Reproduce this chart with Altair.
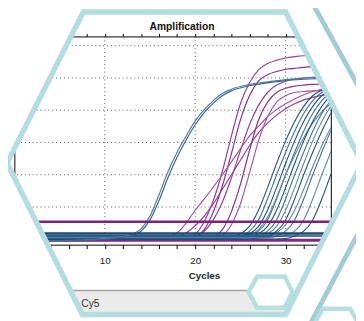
import altair as alt
import pandas as pd

# ---------------- data ----------------
GRID = [0, 8, 12, 14, 16, 18, 19, 20, 21, 22, 23, 24, 25, 26, 27, 28, 29, 30, 31, 32, 33, 34, 35, 36]

P1 = [-0.03, -0.03, -0.02, -0.02, -0.01, 0.0, 0.03, 0.15, 0.55, 1.2, 2.1, 3.2, 4.2, 4.85, 5.25, 5.45, 5.55, 5.62, 5.66, 5.69, 5.7, 5.71, 5.72, 5.72]
P2 = [-0.04, -0.04, -0.03, -0.03, -0.02, -0.01, 0.0, 0.07, 0.3, 0.85, 1.65, 2.65, 3.7, 4.45, 4.9, 5.1, 5.2, 5.27, 5.3, 5.33, 5.35, 5.36, 5.37, 5.37]
P3 = [-0.02, -0.02, -0.01, 0.0, 0.02, 0.2, 0.5, 0.9, 1.25, 1.62, 2.0, 2.4, 2.8, 3.2, 3.5, 3.8, 4.02, 4.2, 4.35, 4.48, 4.58, 4.65, 4.7, 4.73]
P4 = [-0.03, -0.03, -0.02, -0.01, 0.0, 0.08, 0.2, 0.42, 0.72, 1.1, 1.55, 2.0, 2.45, 2.9, 3.3, 3.6, 3.85, 4.05, 4.2, 4.32, 4.4, 4.46, 4.5, 4.52]
P5 = [-0.03, -0.03, -0.03, -0.03, -0.02, -0.02, -0.01, 0.0, 0.02, 0.08, 0.3, 0.85, 1.7, 2.75, 3.7, 4.25, 4.55, 4.68, 4.75, 4.78, 4.8, 4.81, 4.82, 4.82]
P6 = [-0.04, -0.04, -0.04, -0.03, -0.03, -0.02, -0.02, -0.01, 0.0, 0.03, 0.12, 0.45, 1.1, 2.05, 3.05, 3.8, 4.25, 4.45, 4.55, 4.58, 4.6, 4.61, 4.62, 4.62]
P7 = [-0.02, -0.02, -0.02, -0.01, 0.0, 0.01, 0.02, 0.08, 0.25, 0.6, 1.15, 1.9, 2.75, 3.55, 4.15, 4.55, 4.78, 4.9, 4.96, 5.0, 5.02, 5.03, 5.04, 5.04]
P_NEG = [-0.03, -0.03, -0.03, -0.03, -0.03, -0.03, -0.03, -0.03, -0.03, -0.03, -0.03, -0.03, -0.03, -0.03, -0.03, -0.03, -0.03, -0.03, -0.03, -0.03, -0.03, -0.03, -0.03, -0.03]

B1 = [0.02, 0.02, 0.02, 0.02, 0.02, 0.02, 0.02, 0.02, 0.02, 0.02, 0.03, 0.07, 0.17, 0.4, 0.9, 1.6, 2.35, 3.05, 3.65, 4.12, 4.45, 4.63, 4.75, 4.8]
B2 = [0.08, 0.08, 0.08, 0.08, 0.08, 0.08, 0.08, 0.08, 0.08, 0.08, 0.08, 0.08, 0.1, 0.25, 0.6, 1.25, 2.0, 2.7, 3.35, 3.9, 4.3, 4.55, 4.7, 4.78]
B3 = [0.0, 0.0, 0.0, 0.0, 0.0, 0.0, 0.0, 0.0, 0.0, 0.0, 0.01, 0.03, 0.07, 0.17, 0.4, 0.9, 1.6, 2.35, 3.05, 3.65, 4.12, 4.45, 4.63, 4.75]
B4 = [0.12, 0.12, 0.12, 0.12, 0.12, 0.12, 0.12, 0.12, 0.12, 0.12, 0.12, 0.12, 0.12, 0.13, 0.25, 0.6, 1.25, 2.0, 2.7, 3.35, 3.9, 4.3, 4.55, 4.7]
B5 = [0.05, 0.05, 0.05, 0.05, 0.05, 0.05, 0.05, 0.05, 0.05, 0.05, 0.05, 0.05, 0.06, 0.12, 0.3, 0.68, 1.3, 2.0, 2.6, 3.15, 3.6, 3.95, 4.2, 4.35]
B6 = [0.03, 0.03, 0.03, 0.03, 0.03, 0.03, 0.03, 0.03, 0.03, 0.03, 0.03, 0.03, 0.04, 0.07, 0.17, 0.4, 0.9, 1.6, 2.35, 3.05, 3.65, 4.12, 4.45, 4.63]
B7 = [0.1, 0.1, 0.1, 0.1, 0.1, 0.1, 0.1, 0.1, 0.1, 0.1, 0.1, 0.1, 0.1, 0.1, 0.11, 0.25, 0.6, 1.25, 2.0, 2.7, 3.35, 3.9, 4.3, 4.55]
B8 = [0.06, 0.06, 0.06, 0.06, 0.06, 0.06, 0.06, 0.06, 0.06, 0.06, 0.06, 0.06, 0.06, 0.06, 0.07, 0.17, 0.4, 0.9, 1.6, 2.35, 3.05, 3.65, 4.12, 4.45]
B9 = [0.0, 0.0, 0.0, 0.0, 0.0, 0.0, 0.0, 0.0, 0.0, 0.0, 0.0, 0.0, 0.0, 0.01, 0.05, 0.1, 0.25, 0.6, 1.25, 2.0, 2.7, 3.35, 3.9, 4.3]
B10 = [0.09, 0.09, 0.09, 0.09, 0.09, 0.09, 0.09, 0.09, 0.09, 0.09, 0.09, 0.09, 0.09, 0.09, 0.09, 0.1, 0.2, 0.45, 0.9, 1.55, 2.25, 2.9, 3.45, 3.9]
B11 = [0.04, 0.04, 0.04, 0.04, 0.04, 0.04, 0.04, 0.04, 0.04, 0.04, 0.04, 0.04, 0.04, 0.04, 0.04, 0.05, 0.1, 0.25, 0.6, 1.25, 2.0, 2.7, 3.35, 3.9]
B12 = [0.07, 0.07, 0.07, 0.07, 0.07, 0.07, 0.07, 0.07, 0.07, 0.07, 0.07, 0.07, 0.07, 0.07, 0.07, 0.07, 0.08, 0.12, 0.25, 0.6, 1.25, 2.0, 2.7, 3.35]
B13 = [0.01, 0.01, 0.01, 0.01, 0.01, 0.01, 0.01, 0.01, 0.01, 0.01, 0.01, 0.01, 0.01, 0.01, 0.01, 0.01, 0.01, 0.02, 0.1, 0.25, 0.6, 1.25, 2.0, 2.7]
B_NEG = [0.1, 0.1, 0.1, 0.1, 0.1, 0.1, 0.1, 0.1, 0.1, 0.1, 0.1, 0.1, 0.1, 0.1, 0.1, 0.1, 0.1, 0.1, 0.1, 0.1, 0.1, 0.1, 0.1, 0.1]

EARLY_CYCLES = [0, 4, 8, 10, 11, 12, 13, 14, 15, 16, 17, 18, 19, 20, 21, 22, 23, 24, 26, 28, 30, 32, 34, 36]
EARLY_A = [-0.07, -0.05, -0.02, 0.02, 0.05, 0.09, 0.15, 0.32, 0.72, 1.38, 2.1, 2.7, 3.2, 3.67, 4.02, 4.3, 4.52, 4.65, 4.8, 4.88, 4.95, 5.0, 5.03, 5.05]
EARLY_B = [-0.06, -0.05, -0.03, 0.0, 0.03, 0.07, 0.12, 0.25, 0.6, 1.2, 1.92, 2.55, 3.08, 3.55, 3.93, 4.22, 4.45, 4.6, 4.76, 4.85, 4.92, 4.96, 4.99, 5.01]

XTICKS = [2, 4, 6, 8, 10, 12, 14, 16, 18, 20, 22, 24, 26, 28, 30, 32, 34]
YTICKS = [2.1, 2.35, 2.6]
GRID_X = [10, 20, 30]
GRID_Y = [1, 2, 3, 4, 5, 6]
THRESH = [0.545, 0.18]
THRESH_COLORS = ["#7d2080", "#1d4a74"]

PURPLE = "#9c3c99"
PURPLE2 = "#a950a6"
PURPLE3 = "#8a2e8c"
NAVY = "#1f4f7b"
STEEL = "#3c6f9a"
SLATE = "#5d86aa"

CURVES = [
    ("a1", GRID, P1, PURPLE, 1.2), ("a2", GRID, P2, PURPLE3, 1.2),
    ("a3", GRID, P3, PURPLE2, 1.2), ("a4", GRID, P4, PURPLE, 1.2),
    ("a5", GRID, P5, PURPLE3, 1.2), ("a6", GRID, P6, PURPLE2, 1.2),
    ("a7", GRID, P7, PURPLE, 1.2), ("a8", GRID, P_NEG, "#86268a", 3.0),
    ("b01", GRID, B1, NAVY, 1.1), ("b02", GRID, B2, STEEL, 1.1),
    ("b03", GRID, B3, NAVY, 1.1), ("b04", GRID, B4, STEEL, 1.1),
    ("b05", GRID, B5, SLATE, 1.1), ("b06", GRID, B6, NAVY, 1.1),
    ("b07", GRID, B7, STEEL, 1.1), ("b08", GRID, B8, SLATE, 1.1),
    ("b09", GRID, B9, NAVY, 1.1), ("b10", GRID, B10, SLATE, 1.1),
    ("b11", GRID, B11, STEEL, 1.1), ("b12", GRID, B12, SLATE, 1.1),
    ("b13", GRID, B13, NAVY, 1.1), ("b14", GRID, B_NEG, NAVY, 1.6),
    ("c1", EARLY_CYCLES, EARLY_A, "#4f7ea6", 1.2),
    ("c2", EARLY_CYCLES, EARLY_B, "#3a678e", 1.2),
]

# ---------------- decoration geometry (page pixels) ----------------
OX, OY = 14.5, 33.5          # page position of the plot origin
HEX_BIG = [(7, 163), (84, 318), (292, 318), (370, 163), (292, 8.5), (85, 8.5)]
MASK_OUT = [(-30, -30), (420, -30), (420, 350), (-30, 350)]
TEAL_LINE = [(317, -5), (407, 158), (316, 330)]
HEX_SMALL = [(254, 295), (263, 279), (291, 279), (299, 295), (291, 311), (263, 311)]
HEX_SMALL2 = [(320, 330), (330, 312), (358, 312), (368, 330), (358, 348), (330, 348)]
BAR = [(0, 293), (300, 293), (300, 325), (0, 325)]
BAR_TOP = [(0, 293.5), (300, 293.5)]


def g(pts):
    return [[px - OX, py - OY] for px, py in pts]


def ring(pts):
    r = g(pts)
    return r + [r[0]]


def geo(geometry, **mark):
    data = alt.Data(values=[{"type": "Feature", "properties": {}, "geometry": geometry}])
    return alt.Chart(data).mark_geoshape(clip=False, **mark).project(
        type="identity", scale=1, translate=[0, 0])


rows = []
for name, cyc, vals, col, w in CURVES:
    for c, v in zip(cyc, vals):
        rows.append({"name": name, "cycle": c, "value": v, "color": col, "width": w})
df = pd.DataFrame(rows)

X_SCALE = alt.Scale(domain=[0, 35], nice=False, zero=False)
Y_SCALE = alt.Scale(domain=[-0.167, 6.288], nice=False, zero=False)
FONT = "Liberation Sans"

vgrid = alt.Chart(pd.DataFrame({"cycle": GRID_X})).mark_rule(
    strokeDash=[1, 3], color="#555", strokeWidth=1
).encode(
    x=alt.X("cycle:Q", scale=X_SCALE,
            axis=alt.Axis(orient="top", values=XTICKS, labels=False, tickSize=3,
                          domain=False, grid=False, title=None, tickColor="#000"))
)

hgrid = alt.Chart(pd.DataFrame({"value": GRID_Y})).mark_rule(
    strokeDash=[1, 3], color="#555", strokeWidth=1
).encode(y=alt.Y("value:Q", scale=Y_SCALE, axis=None))

lines = alt.Chart(df).mark_line(clip=True, interpolate="monotone").encode(
    x=alt.X("cycle:Q", scale=X_SCALE,
            axis=alt.Axis(orient="bottom", values=XTICKS,
                          labelExpr="datum.value % 10 === 0 ? datum.label : ''",
                          tickSize=4, tickColor="#000", domain=False, grid=False,
                          title=None, labelFont=FONT, labelFontSize=10,
                          labelColor="#222", labelPadding=7)),
    y=alt.Y("value:Q", scale=Y_SCALE,
            axis=alt.Axis(values=YTICKS, labels=False, tickSize=3, tickColor="#000",
                          domain=False, grid=False, title=None)),
    detail="name:N",
    color=alt.Color("color:N", scale=None),
    strokeWidth=alt.StrokeWidth("width:Q", scale=None),
)

thresh = alt.Chart(pd.DataFrame({"value": THRESH, "color": THRESH_COLORS})).mark_rule(
    strokeWidth=2.5, clip=True
).encode(y=alt.Y("value:Q", scale=Y_SCALE, axis=None), color=alt.Color("color:N", scale=None))

bar = geo({"type": "Polygon", "coordinates": [ring(BAR)]}, fill="#ebebeb", strokeOpacity=0)
bar_top = geo({"type": "LineString", "coordinates": g(BAR_TOP)}, filled=False, stroke="#a3a3a3", strokeWidth=1.5)
mask = geo({"type": "Polygon", "coordinates": [ring(MASK_OUT), ring(HEX_BIG)]},
           fill="#ffffff", strokeOpacity=0)
hex_big = geo({"type": "Polygon", "coordinates": [ring(HEX_BIG)]}, filled=False,
              stroke="#b4dde1", strokeWidth=5.5, strokeJoin="miter")
teal = geo({"type": "LineString", "coordinates": g(TEAL_LINE)}, filled=False,
           stroke="#a3cdd2", strokeWidth=5, strokeJoin="miter")
hex_s = geo({"type": "Polygon", "coordinates": [ring(HEX_SMALL)]}, fill="#ffffff",
            stroke="#b7dfe2", strokeWidth=4.5, strokeJoin="miter")
hex_s2 = geo({"type": "Polygon", "coordinates": [ring(HEX_SMALL2)]}, fill="#ffffff",
             stroke="#b7dfe2", strokeWidth=4.5, strokeJoin="miter")

title = alt.Chart(pd.DataFrame({"t": ["Amplification"]})).mark_text(
    font=FONT, fontSize=10.5, fontWeight="bold", color="#111", align="center", baseline="alphabetic"
).encode(text="t:N", x=alt.value(186 - OX), y=alt.value(26.5 - OY))

xtitle = alt.Chart(pd.DataFrame({"t": ["Cycles"]})).mark_text(
    font=FONT, fontSize=10, fontWeight="bold", color="#222", align="center", baseline="alphabetic"
).encode(text="t:N", x=alt.value(209 - OX), y=alt.value(282 - OY))

cy5 = alt.Chart(pd.DataFrame({"t": ["Cy5"]})).mark_text(
    font=FONT, fontSize=10.5, color="#333", align="left", baseline="alphabetic"
).encode(text="t:N", x=alt.value(83 - OX), y=alt.value(310 - OY))

chart = alt.layer(
    vgrid, hgrid, lines, thresh, bar, bar_top, mask, hex_big, teal, hex_s, hex_s2,
    title, xtitle, cy5
).resolve_axis(x="independent").properties(
    width=323.75, height=213,
    autosize=alt.AutoSizeParams(type="none"),
    padding={"left": 6.5, "top": 25.5, "right": 25.75, "bottom": 74.5},
    background="#ffffff",
).configure_view(stroke="#000000", strokeWidth=1, fill="#ffffff")

chart.save("out.html", embed_options={"renderer": "svg", "actions": False})
